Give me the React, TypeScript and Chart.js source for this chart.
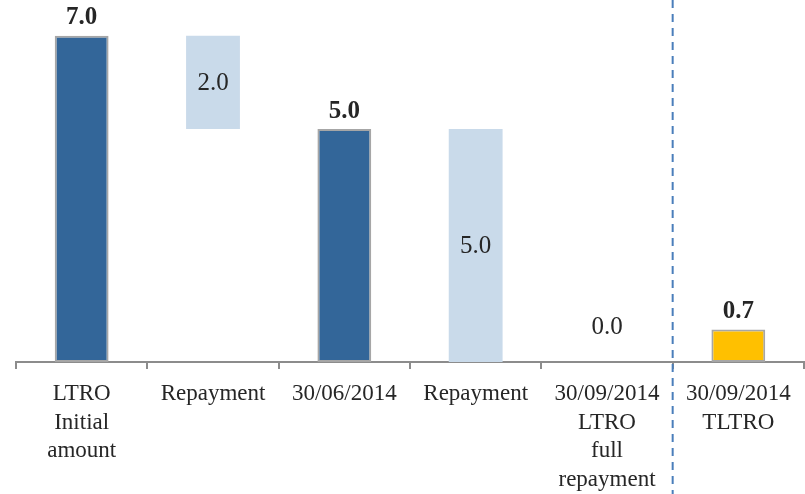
import React, { useEffect, useRef } from "react";
import { Chart, registerables } from "chart.js";

Chart.register(...registerables);

// ---- data ----
const categories: string[][] = [
  ["LTRO", "Initial", "amount"],
  ["Repayment"],
  ["30/06/2014"],
  ["Repayment"],
  ["30/09/2014", "LTRO", "full", "repayment"],
  ["30/09/2014", "TLTRO"],
];
// "total" bars start at zero; "decrease" bars float down from the running total
const barKinds = ["total", "decrease", "total", "decrease", "decrease", "total"];
const values = [7.0, 2.0, 5.0, 5.0, 0.0, 0.7];
const barColors = ["#336699", "#C9DAEA", "#336699", "#C9DAEA", "#C9DAEA", "#FFC000"];
const dividerAfterIndex = 4.5; // dashed separator between LTRO and TLTRO categories

const FONT = "'Liberation Serif', 'Times New Roman', serif";
const TEXT = "#262626";

function buildRanges(): [number, number][] {
  let running = 0;
  return values.map((v, i) => {
    if (barKinds[i] === "total") {
      running = v;
      return [0, v] as [number, number];
    }
    const next = running - v;
    const r: [number, number] = [Math.min(running, next), Math.max(running, next)];
    running = next;
    return r;
  });
}

const overlayPlugin = {
  id: "overlay",
  afterDatasetsDraw(chart: any) {
    const ctx = chart.ctx;
    const meta = chart.getDatasetMeta(0);
    ctx.save();
    ctx.fillStyle = TEXT;
    ctx.textAlign = "center";
    ctx.textBaseline = "middle";
    meta.data.forEach((el: any, i: number) => {
      const p = el.getProps(["x", "y", "base"], true);
      const top = Math.min(p.y, p.base);
      const bottom = Math.max(p.y, p.base);
      let ly: number;
      if (barKinds[i] === "total") ly = top - 18;
      else if (bottom - top < 1) ly = bottom - 35;
      else ly = (top + bottom) / 2 + 1;
      ctx.font = (barKinds[i] === "total" ? "bold " : "") + "25px " + FONT;
      ctx.fillText(values[i].toFixed(1), p.x, ly);
    });
    ctx.restore();
  },
  afterDraw(chart: any) {
    const ctx = chart.ctx;
    const x = chart.scales.x.getPixelForValue(dividerAfterIndex);
    ctx.save();
    ctx.strokeStyle = "#4A7EBB";
    ctx.lineWidth = 2;
    ctx.setLineDash([8, 6]);
    ctx.beginPath();
    ctx.moveTo(x, 0);
    ctx.lineTo(x, chart.height);
    ctx.stroke();
    ctx.restore();
  },
};

export default function App() {
  const ref = useRef<HTMLCanvasElement | null>(null);
  useEffect(() => {
    if (!ref.current) return;
    const chart = new Chart(ref.current, {
      type: "bar",
      data: {
        labels: categories,
        datasets: [
          {
            data: buildRanges() as any,
            backgroundColor: barColors,
            borderColor: barKinds.map((k) => (k === "total" ? "#A6A6A6" : "rgba(0,0,0,0)")),
            borderWidth: barKinds.map((k) => (k === "total" ? 2 : 0)),
            borderSkipped: false,
            barPercentage: 0.41,
            categoryPercentage: 1,
          },
        ],
      },
      options: {
        responsive: false,
        animation: false,
        layout: { padding: { left: 16, right: 1, top: 0, bottom: 0 } },
        plugins: { legend: { display: false }, tooltip: { enabled: false } },
        scales: {
          x: {
            grid: {
              offset: true,
              drawOnChartArea: false,
              drawTicks: true,
              tickLength: 7,
              color: "#8C8C8C",
              lineWidth: 2,
            },
            border: { display: true, color: "#8C8C8C", width: 2 },
            ticks: {
              color: TEXT,
              font: { family: FONT, size: 23, lineHeight: 1.26 },
              padding: 10,
              maxRotation: 0,
              autoSkip: false,
            },
            afterFit: (scale: any) => {
              scale.height = 132;
            },
          },
          y: { display: false, min: 0, max: 7.77 },
        },
      },
      plugins: [overlayPlugin],
    });
    return () => chart.destroy();
  }, []);
  return (
    <div style={{ position: "fixed", left: 0, top: 0, width: 805, height: 494, background: "#fff" }}>
      <canvas ref={ref} width={805} height={494} style={{ display: "block" }} />
    </div>
  );
}
